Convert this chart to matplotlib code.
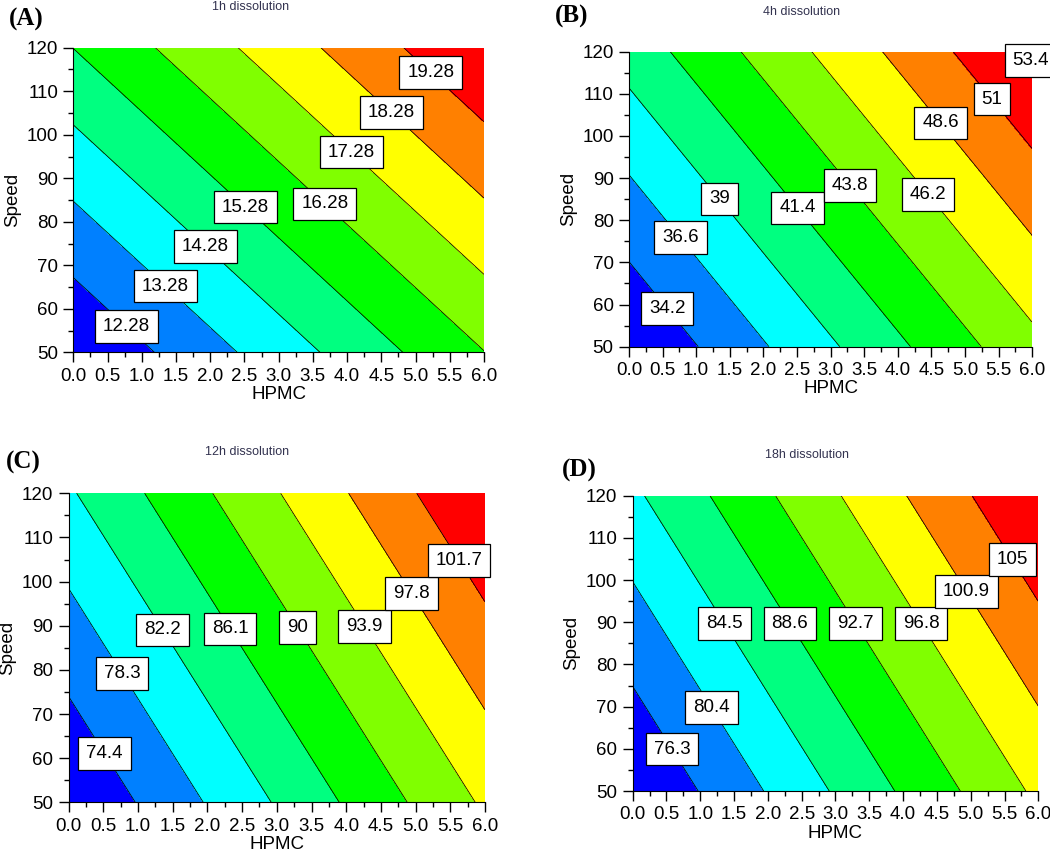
import numpy as np
import matplotlib
matplotlib.use("Agg")
import matplotlib.pyplot as plt
from matplotlib.ticker import MultipleLocator, FormatStrFormatter

plt.rcParams['font.family'] = ['Liberation Sans', 'DejaVu Sans']

# grid corners (HPMC x Speed) and response
hpmc = [0.0, 6.0]
speed = [50.0, 120.0]

# rows = speed (50, 120), cols = hpmc (0, 6)
z_1h = [[11.30, 16.26], [15.29, 20.25]]
z_4h = [[31.85, 45.53], [40.00, 53.68]]
z_12h = [[70.58, 94.46], [81.74, 105.62]]
z_18h = [[72.20, 97.58], [83.76, 109.14]]

lev_1h = [12.28, 13.28, 14.28, 15.28, 16.28, 17.28, 18.28, 19.28]
lev_4h = [34.2, 36.6, 39, 41.4, 43.8, 46.2, 48.6, 51, 53.4]
lev_12h = [74.4, 78.3, 82.2, 86.1, 90, 93.9, 97.8, 101.7]
lev_18h = [76.3, 80.4, 84.5, 88.6, 92.7, 96.8, 100.9, 105]

titles = ["1h dissolution", "4h dissolution", "12h dissolution", "18h dissolution"]
tags = ["(A)", "(B)", "(C)", "(D)"]

# label spots (x, y) in data units
lab_1h = [(0.78, 56.1), (1.35, 65.3), (1.93, 74.4), (2.52, 83.5), (3.68, 84.2),
          (4.06, 96.0), (4.64, 105.1), (5.22, 114.2)]
lab_4h = [(0.57, 59.1), (0.77, 75.9), (1.34, 85.0), (2.50, 82.8), (3.28, 88.2),
          (4.44, 86.1), (4.63, 103.0), (5.38, 108.5), (5.95, 117.6)]
lab_12h = [(0.52, 61.1), (0.77, 79.2), (1.35, 89.0), (2.32, 89.2), (3.29, 89.5),
           (4.26, 89.8), (4.93, 97.2), (5.62, 104.7)]
lab_18h = [(0.585, 60.0), (1.165, 69.8), (1.355, 89.7), (2.32, 89.7), (3.295, 89.7),
           (4.26, 89.7), (4.94, 97.4), (5.62, 104.9)]

band_colors = ['#0000ff', '#0080ff', '#00ffff', '#00ff80', '#00ff00',
               '#80ff00', '#ffff00', '#ff8000', '#ff0000']

fig = plt.figure(figsize=(10.5, 8.6), dpi=100)

# axes rectangles in figure fractions
rects = [[0.0698, 0.5903, 0.3912, 0.3542],
         [0.5990, 0.5969, 0.3841, 0.3430],
         [0.0654, 0.0671, 0.3965, 0.3593],
         [0.6025, 0.0802, 0.3864, 0.3434]]
title_pos = [(0.2384, 0.9924), (0.7630, 0.9866), (0.2352, 0.4748), (0.7686, 0.4709)]
tag_pos = [(0.0248, 0.9779), (0.5443, 0.9808), (0.0219, 0.4628), (0.5519, 0.4535)]

panels = [(z_1h, lev_1h, lab_1h), (z_4h, lev_4h, lab_4h),
          (z_12h, lev_12h, lab_12h), (z_18h, lev_18h, lab_18h)]

X, Y = np.meshgrid(hpmc, speed)

for i, (z, lev, labs) in enumerate(panels):
    ax = fig.add_axes(rects[i])
    Z = np.array(z)
    fill_lev = lev[:8]  # 9 colour bands
    ax.contourf(X, Y, Z, levels=fill_lev, colors=band_colors, extend='both')
    cs = ax.contour(X, Y, Z, levels=lev, colors='black', linewidths=0.55)
    texts = ax.clabel(cs, lev, inline=False, fmt='%g', manual=labs,
                      fontsize=13.5, colors='black', zorder=6)
    for t in texts:
        t.set_rotation(0)
        t.set_clip_on(False)
        t.set_bbox(dict(boxstyle='square,pad=0.42', facecolor='white',
                        edgecolor='black', linewidth=0.9))

    ax.set_xlim(0, 6)
    ax.set_ylim(50, 120)
    ax.xaxis.set_major_locator(MultipleLocator(0.5))
    ax.xaxis.set_minor_locator(MultipleLocator(0.25))
    ax.xaxis.set_major_formatter(FormatStrFormatter('%.1f'))
    ax.yaxis.set_major_locator(MultipleLocator(10))
    ax.yaxis.set_minor_locator(MultipleLocator(5))
    ax.tick_params(which='major', length=7, width=1, labelsize=13.5, pad=4, direction='out')
    ax.tick_params(which='minor', length=3.6, width=1, direction='out')
    for s in ['top', 'right']:
        ax.spines[s].set_visible(False)
    ax.set_xlabel("HPMC", fontsize=13.5, labelpad=1)
    ax.set_ylabel("Speed", fontsize=13.5, labelpad=4)

    fig.text(title_pos[i][0], title_pos[i][1], titles[i], fontsize=9,
             color='#333350', ha='center', va='center')
    fig.text(tag_pos[i][0], tag_pos[i][1], tags[i], fontsize=18, fontweight='bold',
             family=['Liberation Serif', 'DejaVu Serif'], ha='center', va='center')

fig.savefig("out.png", dpi=100)
